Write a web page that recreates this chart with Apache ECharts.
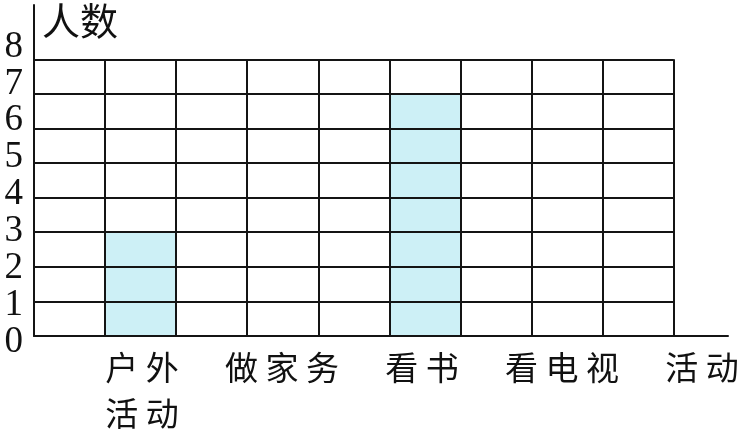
<!DOCTYPE html>
<html>
<head>
<meta charset="utf-8">
<title>人数</title>
<script src="https://cdn.jsdelivr.net/npm/echarts@6/dist/echarts.min.js"></script>
<style>
  html, body { margin: 0; padding: 0; background: #fff; }
  #chart { width: 744px; height: 431px; }
</style>
</head>
<body>
<div id="chart"></div>
<script>
// 活动名称（每两格一个）
const activities = ['户 外\n活 动', '做 家 务', '看 书', '看 电 视', '活 动']
// 人数
const counts = [3, 0, 7, 0]
// 纵轴刻度
const yMin = 0
const yMax = 8
const yStep = 1

const CJK = '"Noto Sans CJK SC", "Noto Sans", sans-serif'
const lineColor = '#141414'

// 网格共 9 列，名称放在奇数列上
const gridCols = []
const barData = []
for (let i = 0; i < 9; i++) {
  gridCols.push(String(i))
  barData.push(i % 2 === 1 ? counts[(i - 1) / 2] : '-')
}
const labelSlots = []
for (let i = 0; i < 10; i++) {
  labelSlots.push(i % 2 === 1 ? activities[(i - 1) / 2] : '')
}

const chart = echarts.init(document.getElementById('chart'))

chart.setOption({
  animation: false,
  grid: [
    // 方格
    { left: 34, right: 70.3, top: 59.3, bottom: 95, outerBoundsMode: 'none' },
    // 坐标轴线
    { left: 34, right: 16, top: 5, bottom: 95, outerBoundsMode: 'none' },
    // 纵轴数字
    { left: 34, right: 16, top: 47, bottom: 89, outerBoundsMode: 'none' },
    // 横轴文字
    { left: 37, width: 700, top: 59.3, bottom: 95, outerBoundsMode: 'none' }
  ],
  xAxis: [
    {
      gridIndex: 0,
      type: 'category',
      data: gridCols,
      z: 10,
      axisLine: { show: false },
      axisTick: { show: false },
      axisLabel: { show: false },
      splitLine: { show: true, lineStyle: { color: lineColor, width: 2 } }
    },
    {
      gridIndex: 1,
      type: 'value',
      min: 0,
      max: 1,
      z: 10,
      axisLine: { show: true, lineStyle: { color: lineColor, width: 2 } },
      axisTick: { show: false },
      axisLabel: { show: false },
      splitLine: { show: false }
    },
    {
      gridIndex: 2,
      type: 'value',
      show: false
    },
    {
      gridIndex: 3,
      type: 'category',
      data: labelSlots,
      axisLine: { show: false },
      axisTick: { show: false },
      splitLine: { show: false },
      axisLabel: {
        interval: 0,
        margin: 8,
        color: '#111',
        fontSize: 33,
        lineHeight: 46,
        fontFamily: CJK,
        verticalAlign: 'top'
      }
    }
  ],
  yAxis: [
    {
      gridIndex: 0,
      type: 'value',
      min: yMin,
      max: yMax,
      interval: yStep,
      z: 10,
      axisLine: { show: false },
      axisTick: { show: false },
      axisLabel: { show: false },
      splitLine: { show: true, lineStyle: { color: lineColor, width: 2 } }
    },
    {
      gridIndex: 1,
      type: 'value',
      min: 0,
      max: 1,
      z: 10,
      name: '人数',
      nameLocation: 'end',
      nameGap: -16,
      nameTextStyle: {
        color: '#111',
        fontSize: 38,
        fontFamily: CJK,
        align: 'left',
        verticalAlign: 'middle',
        padding: [0, 0, 0, 8]
      },
      axisLine: { show: true, lineStyle: { color: lineColor, width: 2 } },
      axisTick: { show: false },
      axisLabel: { show: false },
      splitLine: { show: false }
    },
    {
      gridIndex: 2,
      type: 'value',
      min: yMin,
      max: yMax,
      interval: yStep,
      axisLine: { show: false },
      axisTick: { show: false },
      splitLine: { show: false },
      axisLabel: {
        margin: 11,
        showMinLabel: true,
        showMaxLabel: true,
        color: '#111',
        fontSize: 37,
        fontFamily: '"Liberation Serif", "Times New Roman", serif'
      }
    },
    {
      gridIndex: 3,
      type: 'value',
      show: false
    }
  ],
  series: [
    {
      type: 'bar',
      xAxisIndex: 0,
      yAxisIndex: 0,
      data: barData,
      barWidth: '100%',
      z: 2,
      itemStyle: { color: '#cdf0f6' }
    }
  ]
})
</script>
</body>
</html>
